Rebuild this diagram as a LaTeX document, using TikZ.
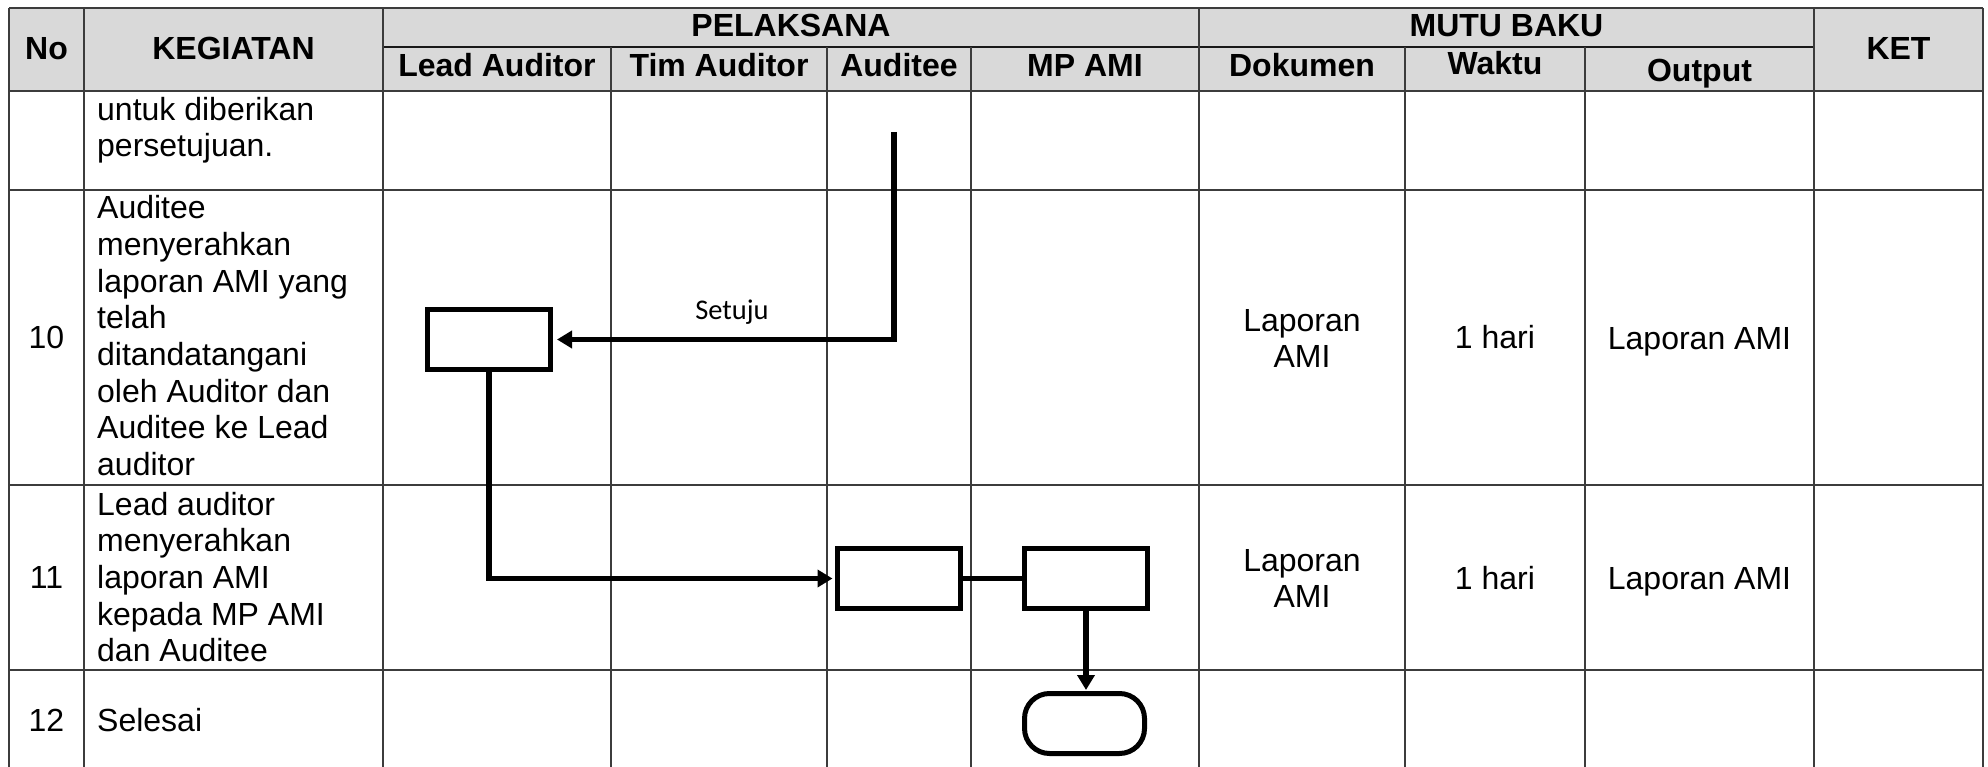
\documentclass[tikz,border=0pt]{standalone}
\usepackage{fontspec}
\setmainfont{Liberation Sans}
\newfontfamily\calibfont{Carlito}
\usetikzlibrary{arrows.meta}
\definecolor{hdrgray}{HTML}{D9D9D9}
\definecolor{gridcol}{HTML}{3C3C3C}
\begin{document}
\begin{tikzpicture}[x=1pt,y=-1pt,
  grid/.style={line width=1.7pt, draw=gridcol},
  thickgrid/.style={line width=2.8pt, draw=black!90},
  hdr/.style={font=\fontsize{32}{36}\selectfont\bfseries, anchor=base, inner sep=0pt},
  txt/.style={font=\fontsize{32}{36}\selectfont, anchor=base west, inner sep=0pt},
  ctxt/.style={font=\fontsize{32}{36}\selectfont, anchor=base, inner sep=0pt},
  flowbox/.style={draw=black, line width=5pt, fill=white, minimum width=123pt, minimum height=60pt, inner sep=0pt},
  termbox/.style={flowbox, rounded corners=25pt, minimum width=120pt},
  conn/.style={line width=5.3pt, draw=black},
  arr/.style={conn, -{Triangle[length=15pt,width=17pt]}},
]
\useasboundingbox (0,0) rectangle (1988,767);
% header background
\fill[hdrgray] (9,8) rectangle (1983,91);
% horizontal lines
\draw[grid] (9,8) -- (1983,8);
\draw[thickgrid] (383,47) -- (1814,47);
\draw[grid] (9,91) -- (1983,91);
\draw[grid] (9,190) -- (1983,190);
\draw[grid] (9,485) -- (1983,485);
\draw[grid] (9,670) -- (1983,670);
% vertical lines
\foreach \x in {9,84,383,1199,1814,1983} \draw[grid] (\x,8) -- (\x,767);
\foreach \x in {611,827,971,1405,1585} \draw[grid] (\x,47) -- (\x,767);
% header texts
\node[hdr] (hNo) at (46.5,60) {No};
\node[hdr] (hKeg) at (233.5,60) {KEGIATAN};
\node[hdr] (hPel) at (791,37) {PELAKSANA};
\node[hdr] (hMutu) at (1506.5,37) {MUTU BAKU};
\node[hdr] (hKet) at (1898.5,60) {KET};
\node[hdr] (hLead) at (497,77) {Lead Auditor};
\node[hdr] (hTim) at (719,77) {Tim Auditor};
\node[hdr] (hAud) at (899,77) {Auditee};
\node[hdr] (hMP) at (1085,77) {MP AMI};
\node[hdr] (hDok) at (1302,77) {Dokumen};
\node[hdr] (hWak) at (1495,75) {Waktu};
\node[hdr] (hOut) at (1699.5,82) {Output};
% row 9 continued
\node[txt] (r9a) at (97,121) {untuk diberikan};
\node[txt] (r9b) at (97,157) {persetujuan.};
% row 10
\node[ctxt] (n10) at (46.5,348) {10};
\node[txt] (r10a) at (97,219) {Auditee};
\node[txt] (r10b) at (97,255.6) {menyerahkan};
\node[txt] (r10c) at (97,292.2) {laporan AMI yang};
\node[txt] (r10d) at (97,328.8) {telah};
\node[txt] (r10e) at (97,365.4) {ditandatangani};
\node[txt] (r10f) at (97,402) {oleh Auditor dan};
\node[txt] (r10g) at (97,438.6) {Auditee ke Lead};
\node[txt] (r10h) at (97,475.2) {auditor};
\node[ctxt] (d10a) at (1302,331.7) {Laporan};
\node[ctxt] (d10b) at (1302,367.4) {AMI};
\node[ctxt] (w10) at (1495,348) {1 hari};
\node[ctxt] (o10) at (1699.5,349) {Laporan AMI};
% row 11
\node[ctxt] (n11) at (46.5,588) {11};
\node[txt] (r11a) at (97,515) {Lead auditor};
\node[txt] (r11b) at (97,551.7) {menyerahkan};
\node[txt] (r11c) at (97,588.4) {laporan AMI};
\node[txt] (r11d) at (97,625) {kepada MP AMI};
\node[txt] (r11e) at (97,661.5) {dan Auditee};
\node[ctxt] (d11a) at (1302,571) {Laporan};
\node[ctxt] (d11b) at (1302,607) {AMI};
\node[ctxt] (w11) at (1495,589) {1 hari};
\node[ctxt] (o11) at (1699.5,589) {Laporan AMI};
% row 12
\node[ctxt] (n12) at (46.5,731.7) {12};
\node[txt] (r12a) at (97,731.7) {Selesai};
% flow shapes
\node[flowbox] (box1) at (489,339.5) {};
\node[flowbox] (box2) at (898.5,578.5) {};
\node[flowbox] (box3) at (1086,578.5) {};
\node[termbox] (term) at (1084.5,723.5) {};
\coordinate (from9) at (894,132);
% connectors
\draw[arr, shorten >=4pt] (from9) |- (box1.east);
\node[font=\calibfont\fontsize{28.5}{32}\selectfont, anchor=base, inner sep=0pt] (setuju) at (732,319) {Setuju};
\draw[arr, shorten >=2pt] (box1.south) |- (box2.west);
\draw[conn] (box2.east) -- (box3.west);
\draw[arr, shorten >=1pt] (box3.south) -- (box3.south |- term.north);
\end{tikzpicture}
\end{document}
